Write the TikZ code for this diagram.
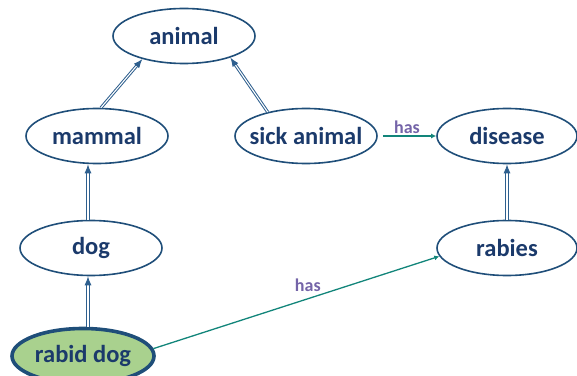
\documentclass[tikz,border=0pt]{standalone}
\usepackage{fontspec}
\setmainfont{Carlito}
\usetikzlibrary{shapes.geometric,arrows.meta}
\definecolor{navy}{HTML}{1B3A6B}
\definecolor{rim}{HTML}{1F4E79}
\definecolor{isablue}{HTML}{2E5F8E}
\definecolor{hasteal}{HTML}{12857A}
\definecolor{haspurple}{HTML}{7464A8}
\definecolor{rabidgreen}{HTML}{A9D18E}
\tikzset{
  concept/.style={ellipse, draw=rim, line width=1.6pt, inner xsep=-12pt,
    inner ysep=0pt, minimum width=142pt, minimum height=55pt, text=navy,
    font=\fontsize{24.5}{28}\selectfont\bfseries},
  isa/.style={draw=isablue, double=white, double distance=1.1pt,
    line width=1pt, -{Latex[length=9pt,width=7pt]}},
  has/.style={draw=hasteal, line width=1.3pt, -{Latex[length=5pt,width=5pt]}},
  haslabel/.style={text=haspurple, font=\fontsize{18}{21}\selectfont\bfseries}
}
\begin{document}
\begin{tikzpicture}[x=1pt,y=1pt]
\useasboundingbox (0,0) rectangle (577,375);

\node[concept] (animal) at (184,339) {animal};
\node[concept] (mammal) at (97,239) {mammal};
\node[concept] (sick) at (306,239) {sick animal};
\node[concept, minimum width=140pt] (disease) at (507,239) {disease};
\node[concept] (dog) at (91,127) {dog};
\node[concept, minimum width=140pt] (rabies) at (507,127) {rabies};
\node[concept, line width=3.6pt, fill=rabidgreen] (rabid) at (83,19) {rabid dog};

\coordinate (dogtop) at ([xshift=-3pt]dog.north);
\coordinate (rabidtop) at ([xshift=5pt]rabid.north);

\draw[isa] (mammal.82) -- (animal.209);
\draw[isa] (sick.148) -- (animal.335);
\draw[isa] (dogtop) -- (mammal.south -| dogtop);
\draw[isa] (rabidtop) -- (dog.south -| rabidtop);
\draw[isa] (rabies.north) -- (disease.south);

\draw[has, shorten <=5pt] (sick.east) -- (disease.west)
  node[midway, above=-2pt, haslabel] (has1) {has};
\draw[has] (rabid.6) -- (rabies.187)
  node[pos=0.54, above=3pt, haslabel] (has2) {has};
\end{tikzpicture}
\end{document}
